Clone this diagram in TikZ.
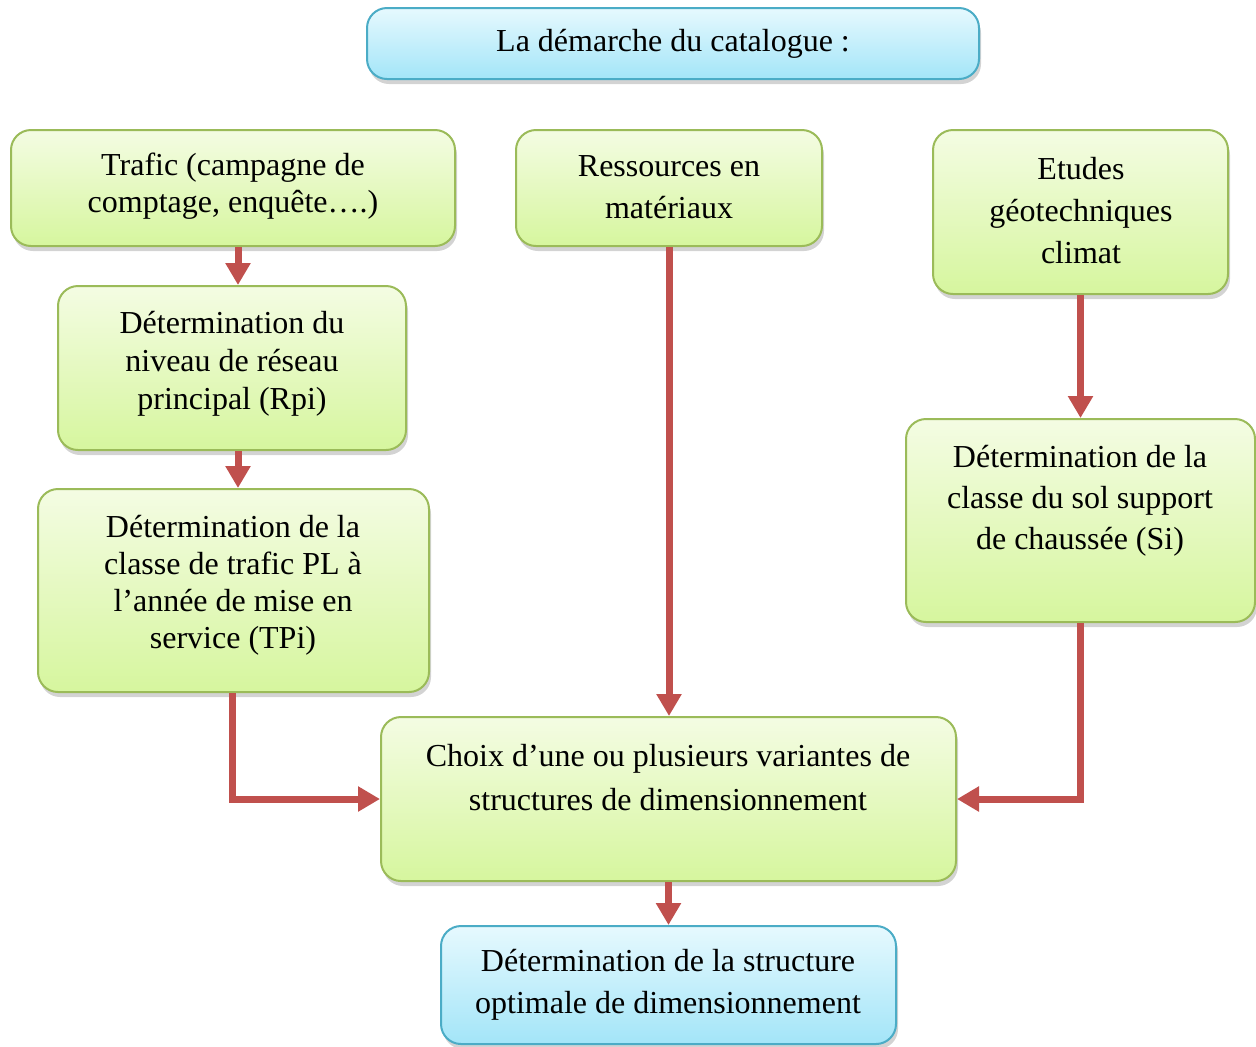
\documentclass[tikz,border=0pt]{standalone}
\usepackage{fontspec}
\setmainfont{Liberation Serif}
\usetikzlibrary{arrows.meta,shadows}

\definecolor{vertclair}{HTML}{F4FCE3}
\definecolor{vertfonce}{HTML}{D6F69E}
\definecolor{bordvert}{HTML}{9BBB59}
\definecolor{bleuclair}{HTML}{E6F9FE}
\definecolor{bleufonce}{HTML}{A3E5F8}
\definecolor{bordbleu}{HTML}{4BACC6}
\definecolor{rouge}{HTML}{C0504D}

\begin{document}
\begin{tikzpicture}[x=0.5pt,y=-0.5pt,
  boite/.style={rounded corners=10pt,line width=1pt,
    drop shadow={opacity=0.35,shadow xshift=1pt,shadow yshift=-2.5pt}},
  verte/.style={boite,draw=bordvert,top color=vertclair,bottom color=vertfonce},
  bleue/.style={boite,draw=bordbleu,top color=bleuclair,bottom color=bleufonce},
  texte/.style={align=center,inner sep=0pt},
  fleche/.style={draw=rouge,line width=3.5pt,-{Triangle[width=12pt,length=11pt]}}]

\useasboundingbox (0,0) rectangle (1256,1046) ;

% boites

\node[bleue,minimum width=306pt,minimum height=35.5pt] (titre) at (673,43.5) {} ;
\node[verte,minimum width=222pt,minimum height=58pt] (trafic) at (233,188) {} ;
\node[verte,minimum width=153pt,minimum height=58pt] (ress) at (669,188) {} ;
\node[verte,minimum width=147.5pt,minimum height=82pt] (etudes) at (1080.5,212) {} ;
\node[verte,minimum width=174pt,minimum height=82pt] (rpi) at (232,368) {} ;
\node[verte,minimum width=195.5pt,minimum height=101.5pt] (tpi) at (233.5,590.5) {} ;
\node[verte,minimum width=174.5pt,minimum height=101.5pt] (sol) at (1080.5,520.5) {} ;
\node[verte,minimum width=287.5pt,minimum height=82pt] (choix) at (668.5,799) {} ;
\node[bleue,minimum width=227.5pt,minimum height=59pt] (final) at (668.5,985) {} ;

% textes

\node[texte,font=\fontsize{16}{19}\selectfont] (titre-t) at (673,44) {La démarche du catalogue :} ;
\node[texte,font=\fontsize{16}{18.5}\selectfont] (trafic-t) at (233,186.5) {Trafic (campagne de\\comptage, enquête….)} ;
\node[texte,font=\fontsize{16}{21}\selectfont] (ress-t) at (669,187.5) {Ressources en\\matériaux} ;
\node[texte,font=\fontsize{16}{21}\selectfont] (etudes-t) at (1081,211) {Etudes\\géotechniques\\climat} ;
\node[texte,font=\fontsize{16}{19}\selectfont] (rpi-t) at (232,363.5) {Détermination du\\niveau de réseau\\principal (Rpi)} ;
\node[texte,font=\fontsize{16}{18.5}\selectfont] (tpi-t) at (233,585.5) {Détermination de la\\classe de trafic PL à\\l’année de mise en\\service (TPi)} ;
\node[texte,font=\fontsize{16}{20.5}\selectfont] (sol-t) at (1080,501) {Détermination de la\\classe du sol support\\de chaussée (Si)} ;
\node[texte,font=\fontsize{16}{22}\selectfont] (choix-t) at (668,778) {Choix d’une ou plusieurs variantes de\\structures de dimensionnement} ;
\node[texte,font=\fontsize{16}{21}\selectfont] (final-t) at (668,984.5) {Détermination de la structure\\optimale de dimensionnement} ;

% fleches

\draw[fleche] ([xshift=2.5pt]trafic.south) -- ([xshift=2.5pt]trafic.south |- rpi.north) ;
\draw[fleche] ([xshift=3pt]rpi.south) -- ([xshift=3pt]rpi.south |- tpi.north) ;
\draw[fleche] (ress.south) -- (ress.south |- choix.north) ;
\draw[fleche] (etudes.south) -- (etudes.south |- sol.north) ;
\draw[fleche] ([xshift=-0.75pt]tpi.south) |- (choix.west) ;
\draw[fleche] (sol.south) |- (choix.east) ;
\draw[fleche] (choix.south) -- (final.north) ;

\end{tikzpicture}
\end{document}
